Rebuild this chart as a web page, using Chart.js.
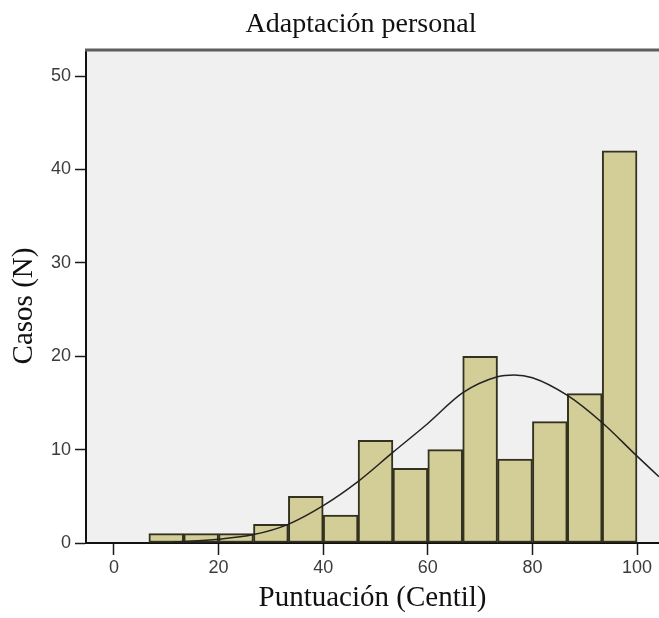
<!DOCTYPE html>
<html>
<head>
<meta charset="utf-8">
<script src="https://cdn.jsdelivr.net/npm/chart.js@4/dist/chart.umd.min.js"></script>
<style>
  body { margin: 0; background: #fff; }
  #wrap { width: 659px; height: 618px; }
</style>
</head>
<body>
<div id="wrap"><canvas id="hist_chart"></canvas></div>
<script>
// histogram bins (centres, width 100/15) and counts
var bin_centres = [10, 16.67, 23.33, 30, 36.67, 43.33, 50, 56.67, 63.33, 70, 76.67, 83.33, 90, 96.67];
var bin_counts = [1, 1, 1, 2, 5, 3, 11, 8, 10, 20, 9, 13, 16, 42];

// normal curve
var curve_x = [11.3, 20, 26.7, 33.3, 40, 46.7, 53.3, 60, 66.7, 73.3, 76.5, 80, 86.7, 93.3, 100, 104.2];
var curve_y = [0.1, 0.4, 0.9, 2.0, 4.0, 6.6, 9.7, 12.8, 16.1, 17.8, 18.0, 17.7, 15.8, 12.9, 9.3, 7.1];

var x_ticks = [0, 20, 40, 60, 80, 100];
var y_ticks = [0, 10, 20, 30, 40, 50];

const chart_title = "Adaptación personal";
const x_title = "Puntuación (Centil)";
const y_title = "Casos (N)";

const serif = '"Liberation Serif", "Times New Roman", serif';
const sans = '"Liberation Sans", Arial, sans-serif';

const ctx = document.getElementById("hist_chart").getContext("2d");

// grey plot background, white page, thick top frame line, title and y title
const frame_plugin = {
  id: 'frame',
  beforeDraw(chart) {
    const c = chart.ctx, a = chart.chartArea;
    c.save();
    c.fillStyle = '#fff';
    c.fillRect(0, 0, chart.width, chart.height);
    c.fillStyle = '#f0f0f0';
    c.fillRect(a.left, a.top, a.right - a.left, a.bottom - a.top);
    c.restore();
  },
  afterDraw(chart) {
    const c = chart.ctx, a = chart.chartArea;
    c.save();
    c.strokeStyle = '#5e5e5e';
    c.lineWidth = 3;
    c.beginPath();
    c.moveTo(a.left - 1, a.top);
    c.lineTo(a.right, a.top);
    c.stroke();
    c.fillStyle = '#111';
    c.font = '28px ' + serif;
    c.textAlign = 'center';
    c.textBaseline = 'alphabetic';
    c.fillText(chart_title, 361, 32);
    // y title sits a little below the plot centre, as in the picture
    c.translate(24, 306);
    c.rotate(-Math.PI / 2);
    c.font = '29px ' + serif;
    c.textBaseline = 'middle';
    c.fillText(y_title, 0, 0);
    c.restore();
  }
};

new Chart(ctx, {
  type: 'bar',
  data: {
    datasets: [{
      type: 'line',
      data: curve_x.map((x, i) => ({ x: x, y: curve_y[i] })),
      borderColor: '#222',
      borderWidth: 1.5,
      pointRadius: 0,
      fill: false,
      cubicInterpolationMode: 'monotone',
      order: 0
    }, {
      type: 'bar',
      data: bin_centres.map((x, i) => ({ x: x, y: bin_counts[i] })),
      backgroundColor: '#d3ce97',
      borderColor: '#33311f',
      borderWidth: 2,
      borderSkipped: false,
      barPercentage: 1,
      categoryPercentage: 1,
      order: 1
    }]
  },
  options: {
    responsive: true,
    maintainAspectRatio: false,
    animation: false,
    layout: { padding: { top: 50, left: 0, right: 0, bottom: 0 } },
    plugins: {
      legend: { display: false },
      tooltip: { enabled: false }
    },
    scales: {
      x: {
        type: 'linear',
        min: -5.35,
        max: 104.2,
        offset: false,
        afterBuildTicks: s => { s.ticks = x_ticks.map(v => ({ value: v })); },
        afterFit: s => { s.height = 75; },
        grid: { drawOnChartArea: false, drawTicks: true, tickLength: 12, tickColor: '#1a1a1a', tickWidth: 1.5, offset: false },
        border: { display: true, color: '#111', width: 2 },
        ticks: {
          padding: 2,
          color: '#3c3c3c',
          font: { family: sans, size: 18 }
        },
        title: {
          display: true,
          text: x_title,
          color: '#111',
          padding: { top: 0, bottom: 2 },
          font: { family: serif, size: 29 }
        }
      },
      y: {
        min: 0,
        max: 52.8,
        afterBuildTicks: s => { s.ticks = y_ticks.map(v => ({ value: v })); },
        afterFit: s => { s.width = 86; },
        grid: { drawOnChartArea: false, drawTicks: true, tickLength: 11, tickColor: '#1a1a1a', tickWidth: 1.5 },
        border: { display: true, color: '#111', width: 2 },
        ticks: {
          padding: 4,
          color: '#3c3c3c',
          font: { family: sans, size: 18 }
        },
        title: { display: false }
      }
    }
  },
  plugins: [frame_plugin]
});
</script>
</body>
</html>
